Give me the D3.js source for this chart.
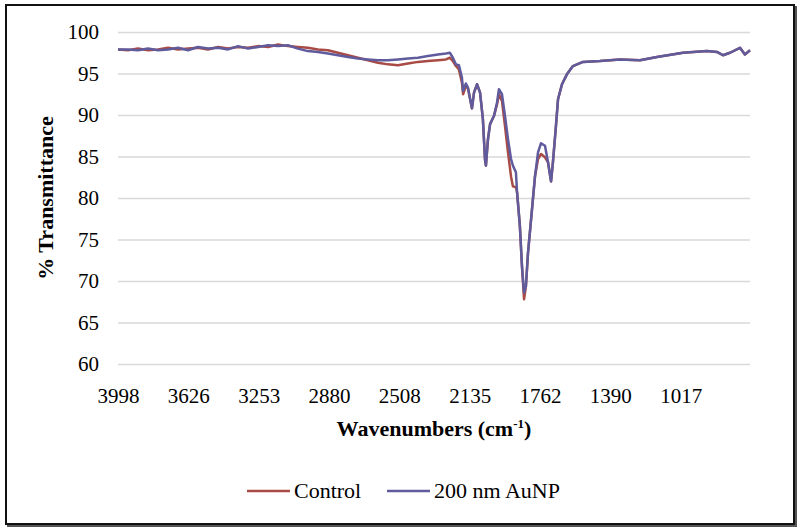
<!DOCTYPE html>
<html>
<head>
<meta charset="utf-8">
<script src="https://cdn.jsdelivr.net/npm/d3@7"></script>
<style>
  body { margin: 0; background: #fff; }
  svg text { font-family: "Liberation Serif", "Times New Roman", Times, serif; fill: #000; }
</style>
</head>
<body>
<div id="chart"></div>
<script>
// 1: DATA
const seriesNames = ["Control", "200 nm AuNP"];
const xTickLabels = [3998, 3626, 3253, 2880, 2508, 2135, 1762, 1390, 1017];
const yTickLabels = [60, 65, 70, 75, 80, 85, 90, 95, 100];

const wavenumbers = [
  3998, 3945, 3892, 3839, 3786, 3733, 3680, 3627, 3574, 3521,
  3468, 3415, 3362, 3309, 3256, 3203, 3150, 3098, 3045, 2992,
  2939, 2886, 2833, 2780, 2727, 2674, 2621, 2568, 2515, 2462,
  2409, 2356, 2303, 2261, 2240, 2224, 2208, 2192, 2176, 2170,
  2155, 2144, 2123, 2112, 2096, 2080, 2065, 2054, 2049, 2038,
  2027, 2006, 1990, 1980, 1964, 1948, 1932, 1916, 1906, 1890,
  1884, 1869, 1858, 1847, 1837, 1826, 1805, 1789, 1773, 1757,
  1736, 1720, 1704, 1694, 1678, 1667, 1646, 1620, 1588, 1535,
  1445, 1339, 1233, 1143, 1005, 878, 825, 793, 756, 703,
  677, 650
];

const control = [
  97.9, 97.8, 98.0, 97.8, 97.9, 98.1, 97.9, 98.0, 98.1, 97.9,
  98.2, 98.0, 98.2, 98.1, 98.3, 98.2, 98.5, 98.3, 98.2, 98.1,
  97.9, 97.8, 97.5, 97.2, 96.9, 96.6, 96.3, 96.1, 96.0, 96.2,
  96.4, 96.5, 96.6, 96.7, 96.9, 96.5, 95.9, 95.5, 93.9, 92.5,
  93.5, 93.2, 90.8, 92.7, 93.7, 92.7, 89.5, 84.7, 83.9, 87.1,
  88.9, 89.9, 91.3, 92.5, 91.7, 88.7, 85.5, 82.6, 81.4, 81.3,
  80.7, 76.6, 71.8, 67.8, 69.4, 73.4, 78.6, 82.6, 84.7, 85.3,
  84.9, 84.3, 82.0, 84.3, 88.7, 91.9, 93.7, 94.9, 95.9, 96.4,
  96.5, 96.7, 96.6, 97.0, 97.5, 97.7, 97.6, 97.2, 97.5, 98.1,
  97.3, 97.8
];

const aunp = [
  97.9, 97.9, 97.8, 98.0, 97.8, 97.9, 98.1, 97.8, 98.2, 98.0,
  98.1, 97.9, 98.3, 98.0, 98.2, 98.4, 98.3, 98.4, 98.0, 97.7,
  97.6, 97.4, 97.2, 97.0, 96.8, 96.7, 96.6, 96.6, 96.7, 96.8,
  96.9, 97.1, 97.3, 97.4, 97.5, 96.9, 96.1, 96.0, 94.5, 92.9,
  93.8, 93.3, 90.8, 92.7, 93.7, 92.7, 89.5, 84.7, 83.9, 87.1,
  88.9, 89.9, 91.5, 93.1, 92.5, 89.9, 87.1, 84.7, 83.9, 83.1,
  80.7, 76.6, 71.8, 68.6, 69.4, 73.4, 78.6, 82.6, 85.5, 86.6,
  86.3, 84.3, 82.0, 84.3, 88.7, 91.9, 93.7, 94.9, 95.9, 96.4,
  96.5, 96.7, 96.6, 97.0, 97.5, 97.7, 97.6, 97.2, 97.5, 98.1,
  97.3, 97.8
];

const colors = ["#A84B45", "#5F5B9C"];
const serif = "'Liberation Serif', 'Times New Roman', Times, serif";

// 2: LAYOUT
const W = 800, H = 531;
const margin = { top: 32, right: 50, bottom: 167, left: 118 };
const width = W - margin.left - margin.right;
const height = H - margin.top - margin.bottom;

const svg = d3.select("#chart").append("svg")
    .attr("width", W)
    .attr("height", H)
    .attr("font-family", serif);

// outer frame with a little shadow on the right / bottom
svg.append("rect")
    .attr("x", 8).attr("y", 7)
    .attr("width", 788).attr("height", 519)
    .attr("fill", "none").attr("stroke", "#555").attr("stroke-width", 2);
svg.append("rect")
    .attr("x", 6).attr("y", 5)
    .attr("width", 788).attr("height", 519)
    .attr("fill", "#fff").attr("stroke", "#111").attr("stroke-width", 2);

const g = svg.append("g")
    .attr("transform", `translate(${margin.left},${margin.top})`);

// 3: SCALES
const x = d3.scaleLinear().domain([3998, 650]).range([0, width]);
const y = d3.scaleLinear().domain([60, 100]).range([height, 0]);

// 4: GRID + AXES
g.append("g")
    .call(d3.axisLeft(y).tickValues(yTickLabels).tickFormat(d3.format("d"))
        .tickSize(-width).tickPadding(19))
    .attr("font-family", serif)
    .call(a => a.select(".domain").remove())
    .call(a => a.selectAll(".tick line").attr("stroke", "#d9d9d9").attr("stroke-width", 1.5))
    .call(a => a.selectAll(".tick text")
        .style("font-size", "21px").attr("fill", "#000"));

g.append("g")
    .attr("transform", `translate(0,${height})`)
    .call(d3.axisBottom(x).tickValues(xTickLabels).tickFormat(d3.format("d"))
        .tickSize(0).tickPadding(24))
    .attr("font-family", serif)
    .call(a => a.select(".domain").remove())
    .call(a => a.selectAll(".tick text")
        .style("font-size", "21px").attr("fill", "#000"));

// 5: LINES
const line = d3.line()
    .x(d => x(d.wn))
    .y(d => y(d.t));

const series = [control, aunp].map((vals, i) => ({
    name: seriesNames[i],
    values: wavenumbers.map((wn, j) => ({ wn, t: vals[j] }))
}));

g.selectAll(".series")
    .data(series)
    .enter()
    .append("path")
    .attr("class", "series")
    .attr("d", d => line(d.values))
    .attr("fill", "none")
    .attr("stroke", (d, i) => colors[i])
    .attr("stroke-width", 2.5)
    .attr("stroke-linejoin", "round");

// 6: TITLES
const xTitle = svg.append("text")
    .attr("x", margin.left + width / 2)
    .attr("y", 436)
    .attr("text-anchor", "middle")
    .style("font-size", "22px")
    .style("font-weight", "bold");
xTitle.append("tspan").text("Wavenumbers (cm");
xTitle.append("tspan").text("-1").attr("dy", -8).style("font-size", "13px");
xTitle.append("tspan").text(")").attr("dy", 8);

svg.append("text")
    .attr("transform", `translate(53,${margin.top + height / 2}) rotate(-90)`)
    .attr("text-anchor", "middle")
    .style("font-size", "22px")
    .style("font-weight", "bold")
    .text("% Transmittance");

// 7: LEGEND
const legendX = [247, 387];
const legend = svg.selectAll(".legend")
    .data(seriesNames)
    .enter()
    .append("g")
    .attr("class", "legend")
    .attr("transform", (d, i) => `translate(${legendX[i]},491)`);
legend.append("line")
    .attr("x1", 0).attr("x2", 43)
    .attr("stroke", (d, i) => colors[i])
    .attr("stroke-width", 2.5);
legend.append("text")
    .attr("x", 47)
    .attr("y", 7)
    .style("font-size", "22px")
    .text(d => d);
</script>
</body>
</html>
